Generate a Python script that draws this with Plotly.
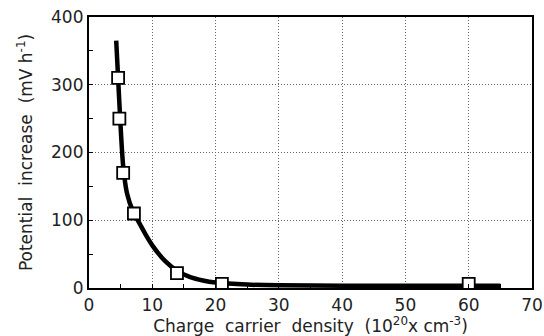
import plotly.graph_objects as go

# Measured points
density = [4.6, 4.8, 5.4, 7.1, 13.9, 21.0, 60.0]
potential = [310, 250, 170, 110, 22, 6, 6]

# Smooth fitted curve through the measurements
curve_x = [4.3, 4.6, 4.9, 5.4, 6.0, 7.0, 8.0, 9.0, 10.0, 12.0, 14.0, 16.0, 18.0, 20.0, 25.0, 30.0, 40.0, 50.0, 60.0, 65.0]
curve_y = [365, 310, 255, 180, 140, 112, 95, 78, 63, 40, 25, 16, 11, 8, 5, 4, 3.5, 3.5, 3.5, 3.5]

x_ticks = [0, 10, 20, 30, 40, 50, 60, 70]
y_ticks = [0, 100, 200, 300, 400]

FONT = "DejaVu Sans"
TEXT = "#222222"
SP = "\u00a0 "  # wide word gap

fig = go.Figure()
fig.add_trace(go.Scatter(
    x=curve_x, y=curve_y, mode="lines",
    line=dict(color="black", width=4.5, shape="spline", smoothing=0.8),
    hoverinfo="skip", showlegend=False,
))
fig.add_trace(go.Scatter(
    x=density, y=potential, mode="markers",
    marker=dict(symbol="square", size=12, color="white",
                line=dict(color="black", width=1.8)),
    showlegend=False,
))

axis_common = dict(
    showline=True, linecolor="black", linewidth=2.2, mirror=True,
    showgrid=True, gridcolor="#666666", griddash="1px,2px", gridwidth=1,
    ticks="inside", ticklen=4, tickcolor="black", tickwidth=1.2,
    zeroline=False, automargin=False,
    tickfont=dict(family=FONT, size=17, color=TEXT),
)

fig.update_xaxes(
    range=[0, 70], tickvals=x_ticks,
    minor=dict(dtick=5, ticks="inside", ticklen=4, tickcolor="black", showgrid=False),
    title=dict(text=f"Charge{SP}carrier{SP}density{SP}(10<sup>20</sup>x cm<sup>-3</sup>)",
               font=dict(family=FONT, size=17, color=TEXT), standoff=5),
    **axis_common,
)
fig.update_yaxes(
    range=[0, 400], tickvals=y_ticks,
    minor=dict(dtick=50, ticks="inside", ticklen=4, tickcolor="black", showgrid=False),
    title=dict(text=f"Potential{SP}increase{SP}(mV h<sup>-1</sup>)",
               font=dict(family=FONT, size=17, color=TEXT), standoff=14),
    **axis_common,
)

fig.update_layout(
    width=544, height=336,
    margin=dict(l=89, r=12, t=17, b=48),
    paper_bgcolor="white", plot_bgcolor="white",
)

fig.write_html("out.html")
